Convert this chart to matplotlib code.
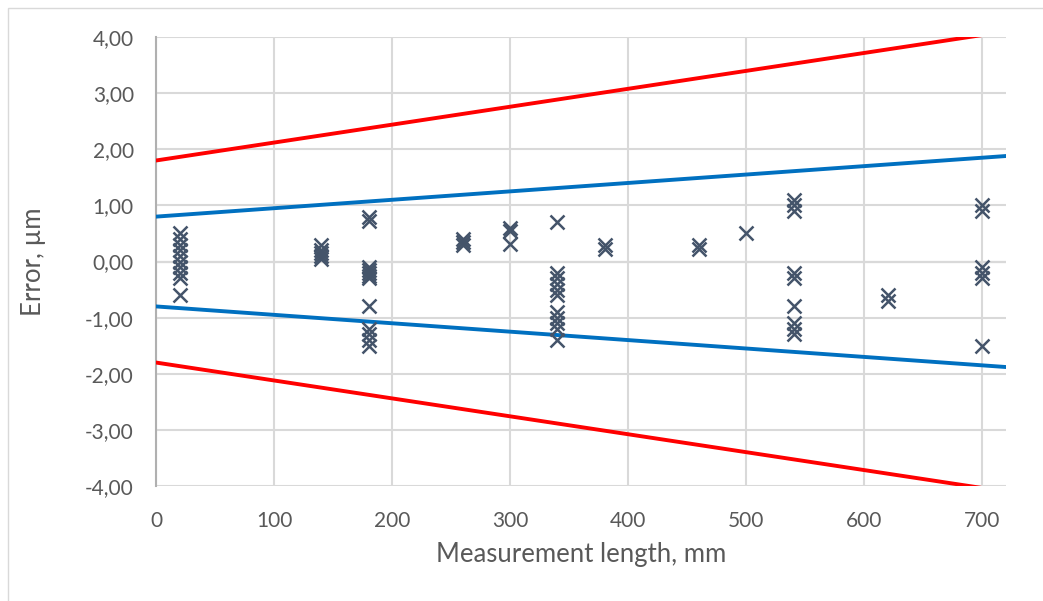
import matplotlib
matplotlib.use("Agg")
import matplotlib.pyplot as plt
from matplotlib.patches import Rectangle
from matplotlib.ticker import FuncFormatter

# Measured errors at each measurement length
length_mm = (
    [20] * 10
    + [140] * 5
    + [180] * 12
    + [260] * 3
    + [300] * 3
    + [340] * 11
    + [380] * 2
    + [460] * 2
    + [500]
    + [540] * 9
    + [620] * 2
    + [700] * 6
)
error_um = (
    [0.5, 0.4, 0.3, 0.2, 0.1, 0.0, -0.1, -0.2, -0.3, -0.6]
    + [0.3, 0.2, 0.15, 0.1, 0.05]
    + [0.8, 0.72, -0.1, -0.15, -0.2, -0.25, -0.3, -0.8, -1.2, -1.3, -1.4, -1.5]
    + [0.4, 0.35, 0.3]
    + [0.6, 0.55, 0.32]
    + [0.7, -0.2, -0.3, -0.4, -0.5, -0.6, -0.9, -1.0, -1.1, -1.2, -1.4]
    + [0.3, 0.22]
    + [0.3, 0.22]
    + [0.5]
    + [1.1, 1.0, 0.9, -0.2, -0.3, -0.8, -1.1, -1.2, -1.3]
    + [-0.6, -0.7]
    + [1.0, 0.9, -0.1, -0.2, -0.3, -1.5]
)

# Tolerance limits, evaluated at the ends of the length range
limit_length = [0, 720]
outer_limit = [1.80, 4.10]
inner_limit = [0.80, 1.88]

x_ticks = [0, 100, 200, 300, 400, 500, 600, 700]
y_ticks = [-4, -3, -2, -1, 0, 1, 2, 3, 4]

plt.rcParams["font.family"] = ["Lato", "DejaVu Sans"]
text_color = "#595959"

fig = plt.figure(figsize=(10.43, 6.01), dpi=100)
ax = fig.add_axes([0.1496, 0.1913, 0.8150, 0.7471])

# chart border
fig.patches.append(Rectangle((8 / 1043, -0.1), 1.2, 1 - 8 / 601 + 0.1,
                             transform=fig.transFigure, fill=False,
                             edgecolor="#d9d9d9", linewidth=1.0))

ax.set_xlim(0, 720)
ax.set_ylim(-4, 4)
ax.set_xticks(x_ticks)
ax.set_yticks(y_ticks)
ax.yaxis.set_major_formatter(FuncFormatter(lambda v, _: f"{v:.2f}".replace(".", ",")))

ax.grid(True, color="#d9d9d9", linewidth=1.5, zorder=0)
ax.axhline(0, color="#ababab", linewidth=1.5, zorder=1)
for side in ["top", "right", "bottom"]:
    ax.spines[side].set_visible(False)
ax.spines["left"].set_color("#b0b0b0")
ax.spines["left"].set_linewidth(1.5)
ax.tick_params(length=0, labelsize=15, labelcolor=text_color)
ax.tick_params(axis="y", pad=16)
ax.tick_params(axis="x", pad=18)

ax.plot(limit_length, outer_limit, color="#ff0000", linewidth=2.8, zorder=3)
ax.plot(limit_length, [-v for v in outer_limit], color="#ff0000", linewidth=2.8, zorder=3)
ax.plot(limit_length, inner_limit, color="#0070c0", linewidth=2.8, zorder=3)
ax.plot(limit_length, [-v for v in inner_limit], color="#0070c0", linewidth=2.8, zorder=3)

ax.plot(length_mm, error_um, linestyle="none", marker="x", markersize=10,
        markeredgewidth=1.8, color="#44546a", zorder=4)

ax.set_xlabel("Measurement length, mm", fontsize=18.5, color=text_color, labelpad=8)
ax.set_ylabel("Error, µm", fontsize=18.5, color=text_color, labelpad=28)

fig.savefig("out.png", dpi=100)
